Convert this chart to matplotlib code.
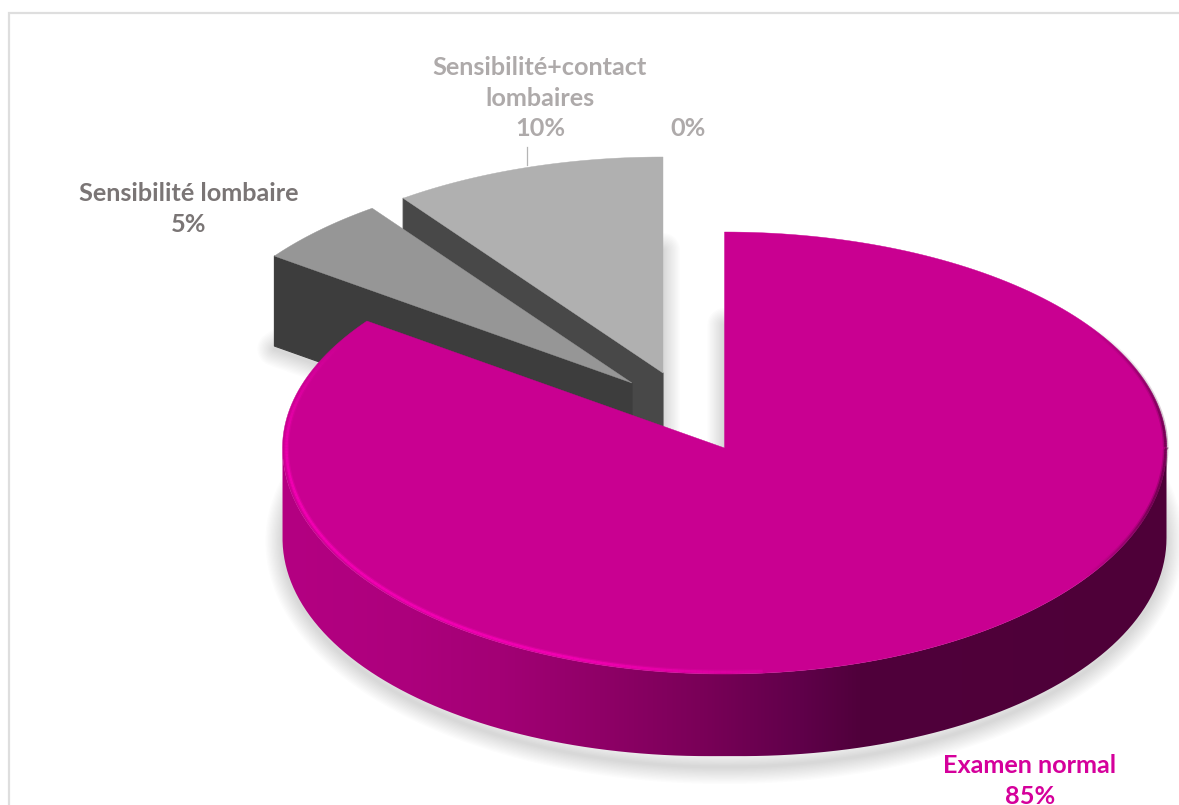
import numpy as np
import matplotlib
matplotlib.use("Agg")
import matplotlib.pyplot as plt
from matplotlib.collections import LineCollection
from matplotlib.colors import to_rgb
from matplotlib.patches import PathPatch, Polygon
from matplotlib.path import Path

categories = ["Examen normal", "Sensibilité lombaire", "Sensibilité+contact\nlombaires", ""]
values = [85, 5, 10, 0]

WIDTH, HEIGHT = 1179, 805
RX, RY_BACK, RY_FRONT = 442, 216, 226
DEPTH = 90
apex = [(724.5, 448), (632, 383), (663, 373)]
top_colors = ["#C90091", "#969696", "#B0B0B0"]
side_colors = [None, "#3D3D3D", "#484848"]

grad_x = [282, 400, 500, 600, 700, 800, 860, 1167]
grad_c = ["#B40082", "#AD007D", "#A30075", "#8F0067", "#7A0058", "#60004A", "#50003B", "#4E0038"]

fig = plt.figure(figsize=(WIDTH / 100, HEIGHT / 100), dpi=100, facecolor="white")
ax = fig.add_axes([0, 0, 1, 1])
ax.set_xlim(0, WIDTH)
ax.set_ylim(HEIGHT, 0)
ax.axis("off")


def rim(center, start, stop, n=240, scale=1.0):
    """Points on the flattened circle, angles clockwise from twelve o'clock."""
    t = np.radians(np.linspace(start, stop, n))
    ry = np.where(np.cos(t) > 0, RY_BACK, RY_FRONT)
    return np.column_stack([center[0] + scale * RX * np.sin(t),
                            center[1] - scale * ry * np.cos(t)])


def halo(points, zorder, steps=13, alpha=0.011):
    """Soft cast shadow built from stacked translucent strokes."""
    for i in range(steps):
        ax.add_patch(Polygon(points, closed=True, fill=False, edgecolor="black",
                             lw=(3 + i * 2.6) * 0.72, alpha=alpha, joinstyle="round",
                             zorder=zorder))


# slice spans, clockwise from the top
edges = np.cumsum([0] + values) * 3.6
spans = [(edges[i], edges[i + 1]) for i in range(3)]

# chart frame
ax.plot([9, 9, WIDTH + 5], [HEIGHT + 5, 13, 13], color="#DEDEDE", lw=1.6, zorder=0,
        solid_joinstyle="miter")

# shadows thrown by the underside of each slice
for c, (a, b) in zip(apex, spans):
    base = (c[0], c[1] + DEPTH + 3)
    halo(np.vstack([[base], rim(base, a, b)]), zorder=1)

# exploded grey slices, far one first
for i in (2, 1):
    a, b = spans[i]
    c = apex[i]
    outer = rim(c, a, a + 0.001, n=1)[0]
    low = (c[0], c[1] + DEPTH)
    out_low = (outer[0], outer[1] + DEPTH)
    ax.add_patch(Polygon([outer, c, low, out_low], closed=True, fc=side_colors[i],
                         ec=side_colors[i], lw=0.8, joinstyle="round", zorder=2 + i * -0.1 + 1))
    ax.add_patch(Polygon(np.vstack([[c], rim(c, a, b)]), closed=True, fc=top_colors[i],
                         ec=top_colors[i], lw=0.3, zorder=3.05 + i * -0.1 + 1))

# main slice: wall with a horizontal shading ramp
c0 = apex[0]
wall_top = rim(c0, 90, 270)
wall_low = rim((c0[0], c0[1] + DEPTH - 8), 90, 270)
shift = np.interp(wall_low[:, 0], [c0[0] - RX, c0[0], c0[0] + RX], [8, 0, 8])
wall_low = wall_low + np.column_stack([np.zeros(len(shift)), shift])
wall = Path(np.vstack([wall_top, wall_low[::-1], wall_top[:1]]), closed=False)
ramp_x = np.linspace(grad_x[0], grad_x[-1], 500)
rgb = np.array([to_rgb(h) for h in grad_c])
ramp = np.column_stack([np.interp(ramp_x, grad_x, rgb[:, k]) for k in range(3)])[None, :, :]
im = ax.imshow(ramp, extent=(grad_x[0], grad_x[-1], 770, 440), aspect="auto",
               interpolation="bilinear", zorder=5)
clip = PathPatch(wall, transform=ax.transData, fc="none", ec="none")
ax.add_patch(clip)
im.set_clip_path(clip)
ax.set_xlim(0, WIDTH)
ax.set_ylim(HEIGHT, 0)

# main slice: top face
a, b = spans[0]
ax.add_patch(Polygon(np.vstack([[c0], rim(c0, a, b)]), closed=True, fc=top_colors[0],
                     ec=top_colors[0], lw=0.3, zorder=6))

# bevel: lit edge on the left, dark edge on the right
t = np.linspace(175, 300, 160)
pts = rim(c0, t[0], t[-1], n=160, scale=0.991)
segs = np.stack([pts[:-1], pts[1:]], axis=1)
fade = np.clip(np.minimum((t[:-1] - 165) / 35, (300 - t[:-1]) / 40), 0, 1)
for lw, al in ((3.6, 0.35), (1.8, 0.9)):
    cols = np.tile(to_rgb("#F400B4") + (0.0,), (len(fade), 1))
    cols[:, 3] = fade * al
    ax.add_collection(LineCollection(segs, colors=cols, linewidths=lw, zorder=7,
                                     capstyle="butt"))

t = np.linspace(55, 125, 120)
pts = rim(c0, t[0], t[-1], n=120, scale=0.998)
segs = np.stack([pts[:-1], pts[1:]], axis=1)
fade = np.clip(np.minimum((t[:-1] - 55) / 30, (125 - t[:-1]) / 20), 0, 1)
for lw, al in ((4.0, 0.25), (2.0, 0.55)):
    cols = np.tile(to_rgb("#4E0038") + (0.0,), (len(fade), 1))
    cols[:, 3] = fade * al
    ax.add_collection(LineCollection(segs, colors=cols, linewidths=lw, zorder=7,
                                     capstyle="butt"))

# data labels
label_font = dict(family="Lato", fontweight="bold", fontsize=18.2, ha="center",
                  va="center", linespacing=1.38, zorder=10)
ax.text(1030, 781, f"{categories[0]}\n{values[0]}%", color="#D5009B", **label_font)
ax.text(189, 209, f"{categories[1]}\n{values[1]}%", color="#7A7575", **label_font)
ax.text(540, 98, f"{categories[2]}\n{values[2]}%", color="#AEAAAA", **label_font)
ax.text(688, 128, f"{values[3]}%", color="#AEAAAA", **label_font)
ax.plot([527, 527], [147, 165], color="#B5B5B5", lw=0.9, zorder=10)

fig.savefig("out.png", dpi=100, facecolor="white")
